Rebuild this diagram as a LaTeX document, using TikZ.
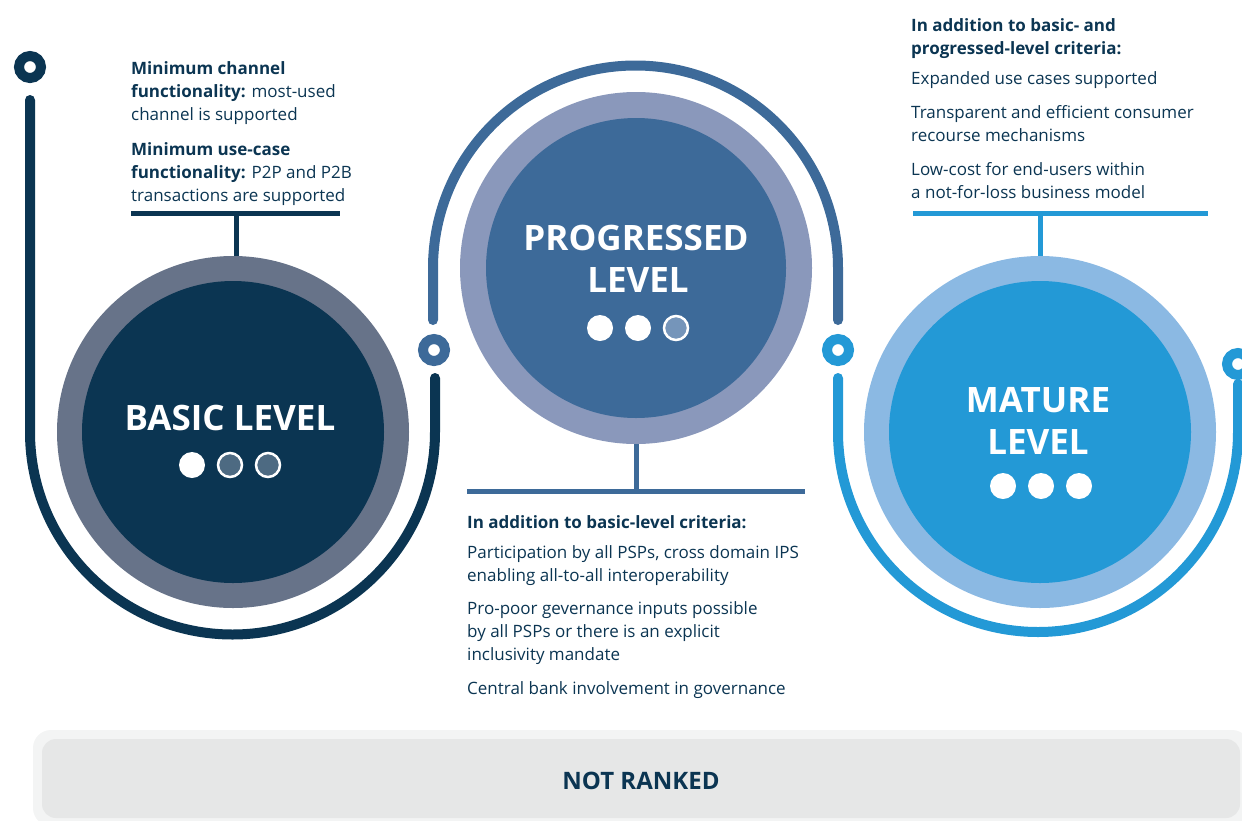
\documentclass[tikz,border=0pt]{standalone}
\usepackage{fontspec}
\setmainfont{Open Sans}
\definecolor{navy}{HTML}{0B3552}
\definecolor{navyring}{HTML}{677389}
\definecolor{navydot}{HTML}{4D6A82}
\definecolor{prog}{HTML}{3D6A99}
\definecolor{progring}{HTML}{8A98BB}
\definecolor{progdot}{HTML}{7595BA}
\definecolor{mat}{HTML}{2399D6}
\definecolor{matring}{HTML}{8BB9E3}
\definecolor{boxout}{HTML}{F3F4F4}
\definecolor{boxin}{HTML}{E6E7E7}
\tikzset{
  arcline/.style={line width=10pt, line cap=round},
  marker/.style={circle, minimum size=22pt, inner sep=0pt, line width=10pt, fill=white},
  bar/.style={line width=5pt},
  title/.style={font=\fontsize{35}{42}\selectfont\bfseries, text=white, align=center},
  body/.style={anchor=north west, align=left, inner sep=0pt, text=navy,
    font=\fontsize{17}{23}\selectfont},
  dotfull/.style={circle, minimum size=26pt, inner sep=0pt, fill=white},
  dotempty/.style={circle, minimum size=24pt, inner sep=0pt, draw=white, line width=2.5pt},
}
\begin{document}
\begin{tikzpicture}[x=1pt,y=1pt]
\useasboundingbox (0,0) rectangle (1242,-820);
% ---------- arcs ----------
\coordinate (bA) at (30,-100);
\coordinate (bB) at (435,-378);
\draw[arcline, navy] (bA) -- (30,-432) arc[start angle=180, end angle=360, radius=202.5pt] -- (bB);
\coordinate (pA) at (433,-320);
\coordinate (pB) at (838,-320);
\draw[arcline, prog] (pA) -- (433,-268) arc[start angle=180, end angle=0, radius=202.5pt] -- (pB);
\coordinate (mA) at (838,-378);
\coordinate (mB) at (1238,-384);
\draw[arcline, mat] (mA) -- (838,-432) arc[start angle=180, end angle=360, radius=200pt] -- (mB);
% ---------- markers ----------
\node[marker, draw=navy] (m1) at (30,-67) {};
\node[marker, draw=prog] (m2) at (434,-350) {};
\node[marker, draw=mat] (m3) at (838,-350) {};
\node[marker, draw=mat] (m4) at (1238,-364) {};
% ---------- circles ----------
\fill[navyring] (233,-432) circle[radius=176pt];
\fill[navy] (233,-432) circle[radius=151pt];
\fill[progring] (636,-268) circle[radius=176pt];
\fill[prog] (636,-268) circle[radius=150pt];
\fill[matring] (1040,-432) circle[radius=176pt];
\fill[mat] (1040,-432) circle[radius=151pt];
% ---------- titles ----------
\node[title] (tb) at (230,-418) {BASIC LEVEL};
\node[title] (tp) at (636,-259) {PROGRESSED\\\hspace*{4pt}LEVEL};
\node[title] (tm) at (1038,-421) {MATURE\\LEVEL};
% ---------- dots ----------
\node[dotfull] (b1) at (192,-465) {};
\node[dotempty, fill=navydot] (b2) at (230,-465) {};
\node[dotempty, fill=navydot] (b3) at (268,-465) {};
\node[dotfull] (p1) at (600,-328) {};
\node[dotfull] (p2) at (638,-328) {};
\node[dotempty, fill=progdot] (p3) at (676,-328) {};
\node[dotfull] (q1) at (1003,-486) {};
\node[dotfull] (q2) at (1041,-486) {};
\node[dotfull] (q3) at (1079,-486) {};
% ---------- connector bars ----------
\coordinate (bl) at (131,-213); \coordinate (br) at (340,-213);
\coordinate (bs) at (236,-213); \coordinate (bt) at (236,-256);
\draw[bar, navy] (bl) -- (br); \draw[bar, navy] (bs) -- (bt);
\coordinate (pl) at (467,-491); \coordinate (pr) at (805,-491);
\coordinate (ps) at (636,-491); \coordinate (pt) at (636,-444);
\draw[bar, prog] (pl) -- (pr); \draw[bar, prog] (ps) -- (pt);
\coordinate (ml) at (913,-213); \coordinate (mr) at (1208,-213);
\coordinate (ms) at (1040,-213); \coordinate (mt) at (1040,-256);
\draw[bar, mat] (ml) -- (mr); \draw[bar, mat] (ms) -- (mt);
% ---------- texts ----------
\node[body] (bt1) at (131,-61) {\textbf{Minimum channel}\\\textbf{functionality:} most-used\\channel is supported};
\node[body] (bt2) at (131,-142) {\textbf{Minimum use-case}\\\textbf{functionality:} P2P and P2B\\transactions are supported};
\node[body] (pt0) at (467,-515) {\textbf{In addition to basic-level criteria:}};
\node[body] (pt1) at (467,-545) {Participation by all PSPs, cross domain IPS\\enabling all-to-all interoperability};
\node[body] (pt2) at (467,-601) {Pro-poor gevernance inputs possible\\by all PSPs or there is an explicit\\inclusivity mandate};
\node[body] (pt3) at (467,-681) {Central bank involvement in governance};
\node[body] (mt0) at (911,-18) {\textbf{In addition to basic- and}\\\textbf{progressed-level criteria:}};
\node[body] (mt1) at (911,-71) {Expanded use cases supported};
\node[body] (mt2) at (911,-105) {Transparent and efficient consumer\\recourse mechanisms};
\node[body] (mt3) at (911,-162) {Low-cost for end-users within\\a not-for-loss business model};
% ---------- bottom box ----------
\fill[boxout, rounded corners=18pt] (33,-730) rectangle (1250,-826);
\fill[boxin, rounded corners=14pt] (42,-739) rectangle (1240,-818);
\node[font=\fontsize{24}{28}\selectfont\bfseries, text=navy] (nr) at (641,-781) {NOT RANKED};
\end{tikzpicture}
\end{document}
